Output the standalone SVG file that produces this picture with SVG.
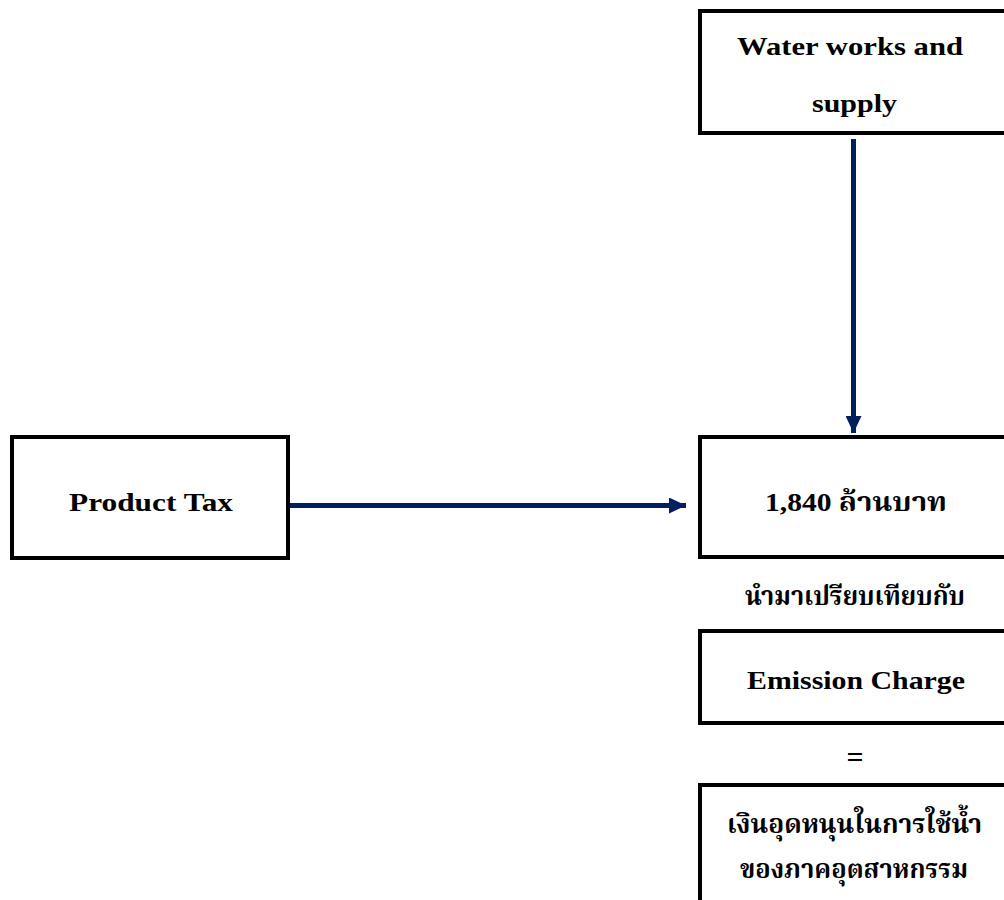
<svg xmlns="http://www.w3.org/2000/svg" width="1004" height="900" viewBox="0 0 1004 900">
<style>
.box{fill:#fff;stroke:#000;stroke-width:4}
.t{font-family:"Liberation Serif","Times New Roman","Noto Serif Thai","Noto Sans Thai",serif;font-weight:bold;font-size:26px;fill:#000;text-anchor:middle}
.th{font-size:27px}
.conn{stroke:#002060;stroke-width:5;fill:none}
</style>
<defs>
<marker id="ah" viewBox="0 0 17 16" refX="17" refY="8" markerWidth="17" markerHeight="16" markerUnits="userSpaceOnUse" orient="auto">
<path d="M0,0 L17,8 L0,16 Z" fill="#002060"/>
</marker>
</defs>
<rect width="1004" height="900" fill="#fff"/>
<g id="connectors">
<line class="conn" x1="853.5" y1="139" x2="853.5" y2="433" marker-end="url(#ah)"/>
<line class="conn" x1="290" y1="505.5" x2="686" y2="505.5" marker-end="url(#ah)"/>
</g>
<g id="water">
<rect class="box" x="700" y="11" width="330" height="122"/>
<text class="t" x="850" y="55" textLength="226" lengthAdjust="spacingAndGlyphs">Water works and</text>
<text class="t" x="854.5" y="112" textLength="85" lengthAdjust="spacingAndGlyphs">supply</text>
</g>
<g id="product-tax">
<rect class="box" x="12" y="437" width="276" height="121"/>
<text class="t" x="151" y="511" textLength="164" lengthAdjust="spacingAndGlyphs">Product Tax</text>
</g>
<g id="amount">
<rect class="box" x="700" y="437" width="330" height="120"/>
<text class="t" x="856" y="511" textLength="182" lengthAdjust="spacingAndGlyphs">1,840 ล้านบาท</text>
</g>
<g id="compare-label">
<text class="t th" x="855" y="605" textLength="220" lengthAdjust="spacingAndGlyphs">นำมาเปรียบเทียบกับ</text>
</g>
<g id="emission">
<rect class="box" x="700" y="631" width="330" height="92"/>
<text class="t" x="856" y="689" textLength="218" lengthAdjust="spacingAndGlyphs">Emission Charge</text>
</g>
<g id="equals">
<text class="t" x="855" y="767" style="font-size:30px">=</text>
</g>
<g id="subsidy">
<rect class="box" x="700" y="785" width="330" height="200"/>
<text class="t th" x="854.5" y="833" textLength="255" lengthAdjust="spacingAndGlyphs">เงินอุดหนุนในการใช้น้ำ</text>
<text class="t th" x="854" y="878" textLength="228" lengthAdjust="spacingAndGlyphs">ของภาคอุตสาหกรรม</text>
</g>
</svg>
